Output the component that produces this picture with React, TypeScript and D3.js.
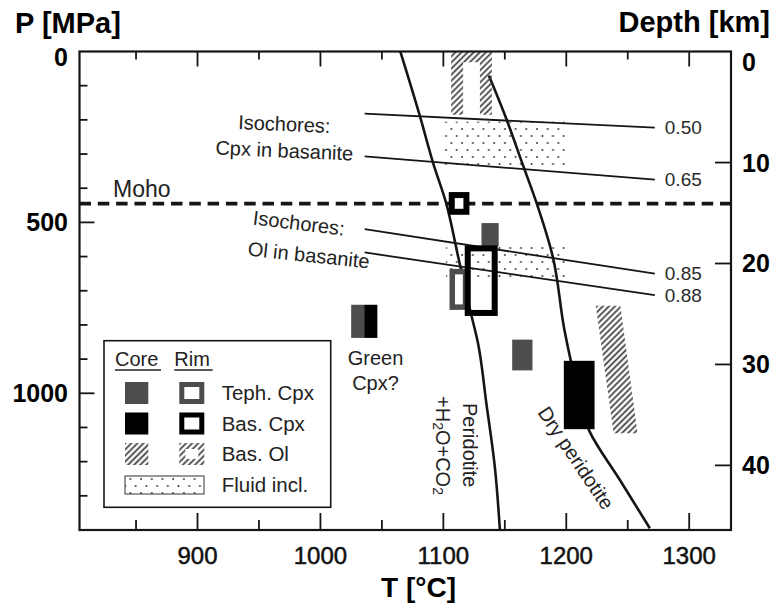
import React from 'react';
import * as d3 from 'd3';

// ---- axis ticks ----
const tempTicks = [900, 1000, 1100, 1200, 1300];
const tempMinorTicks = [850, 950, 1050, 1150, 1250];
const pressureTicks = [0, 500, 1000];
const pressureMinorTicks = [100, 200, 300, 400, 600, 700, 800, 900, 1100, 1200, 1300];
const depthTicks = [0, 10, 20, 30, 40];

const mohoPressure = 445;

// ---- solidus curves [T °C, P MPa] ----
const wetPeridotiteSolidus: [number, number][] = [
  [1065, 0], [1081, 190], [1092, 330], [1102, 440], [1112, 600],
  [1122, 760], [1128, 850], [1135, 1030], [1142, 1220], [1146, 1400],
];
const dryPeridotiteSolidus: [number, number][] = [
  [1137, 70], [1150.5, 190], [1164.5, 330], [1176, 445], [1189, 600],
  [1198.5, 815], [1203.5, 902], [1219, 1112], [1243.5, 1253], [1268, 1395],
];

// ---- isochores (density labels, T span, P at both ends) ----
const isochoreDensities = ['0.50', '0.65', '0.85', '0.88'];
const isochoreTSpan = [1036, 1272];
const isochorePStart = [182, 307, 520, 588];
const isochorePEnd = [223, 375, 650, 713];

// ---- mineral / inclusion P–T boxes ----
type Box = { t0: number; t1: number; p0: number; p1: number };
const tephCpxCores: Box[] = [
  { t0: 1131, t1: 1145, p0: 502, p1: 570 },
  { t0: 1156, t1: 1172.5, p0: 843, p1: 933 },
  { t0: 1025, t1: 1035.6, p0: 741, p1: 838 },
];
const basCpxCores: Box[] = [
  { t0: 1035.6, t1: 1046.3, p0: 741, p1: 838 },
  { t0: 1198, t1: 1223, p0: 905, p1: 1105 },
];
const tephCpxRims: Box[] = [{ t0: 1105, t1: 1120.3, p0: 636, p1: 756 }];
const basCpxRims: Box[] = [
  { t0: 1104.6, t1: 1121, p0: 412, p1: 477 },
  { t0: 1117.6, t1: 1144, p0: 568, p1: 773 },
];
const basOlCore: [number, number][] = [[1224, 744], [1244, 744], [1258, 1117], [1238.5, 1117]];
const basOlRim: Box = { t0: 1111.2, t1: 1134.6, p0: 14, p1: 185 };
const fluidInclusions: Box[] = [
  { t0: 1099, t1: 1199, p0: 205, p1: 337 },
  { t0: 1102, t1: 1199, p0: 572, p1: 660 },
];

const legendRows = ['Teph. Cpx', 'Bas. Cpx', 'Bas. Ol', 'Fluid incl.'];

// ---- scales ----
const x = d3.scaleLinear().domain([804, 1334]).range([79.5, 731]);
const y = d3.scaleLinear().domain([0, 1400]).range([51.5, 530]);
const yDepth = d3.scaleLinear().domain([-1, 46.4]).range([51.5, 530]);

const FONT = 'Liberation Sans, Arial, Helvetica, sans-serif';
const INK = '#151515';
const GREY = '#4d4d4d';

const rimW = 5.5;

function boxRect(b: Box) {
  return { x: x(b.t0), y: y(b.p0), w: x(b.t1) - x(b.t0), h: y(b.p1) - y(b.p0) };
}

export default function App() {
  const [xL, xR] = x.range();
  const [yT, yB] = y.range();
  const curve = d3.line<[number, number]>()
    .x(d => x(d[0]))
    .y(d => y(d[1]))
    .curve(d3.curveMonotoneY);
  const poly = d3.line<[number, number]>().x(d => x(d[0])).y(d => y(d[1]));

  const olRimPath =
    `M${x(basOlRim.t0)},${y(basOlRim.p1)} L${x(basOlRim.t0)},${y(basOlRim.p0)} ` +
    `L${x(basOlRim.t1)},${y(basOlRim.p0)} L${x(basOlRim.t1)},${y(basOlRim.p1)}`;

  // legend geometry
  const lg = { x: 104, y: 340.7, w: 226.7, h: 166.6 };
  const coreCx = 136.7;
  const rimCx = 191.8;
  const rowY = [393, 423.5, 454, 485];
  const sym = 22;

  return (
    <svg width={777} height={608} style={{ position: 'absolute', left: 0, top: 0, background: '#fff' }}
      fontFamily={FONT}>
      <defs>
        <pattern id="hatch" patternUnits="userSpaceOnUse" width="4.3" height="4.3" patternTransform="rotate(45)">
          <line x1="2.15" y1="0" x2="2.15" y2="4.3" stroke="#3a3a3a" strokeWidth="1.7" />
        </pattern>
        <pattern id="dots" patternUnits="userSpaceOnUse" width="10.7" height="14">
          <circle cx="2" cy="3" r="0.95" fill="#333" />
          <circle cx="7.35" cy="10" r="0.95" fill="#333" />
        </pattern>
        <clipPath id="plot">
          <rect x={xL} y={yT} width={xR - xL} height={yB - yT} />
        </clipPath>
      </defs>

      {/* fluid inclusions */}
      {fluidInclusions.map((b, i) => {
        const r = boxRect(b);
        return <rect key={'f' + i} x={r.x} y={r.y} width={r.w} height={r.h} fill="url(#dots)" />;
      })}

      {/* isochores */}
      {isochoreDensities.map((lab, i) => (
        <g key={'iso' + i}>
          <line x1={x(isochoreTSpan[0])} y1={y(isochorePStart[i])}
            x2={x(isochoreTSpan[1])} y2={y(isochorePEnd[i])}
            stroke={INK} strokeWidth={1.8} />
          <text x={x(isochoreTSpan[1]) + 10} y={y(isochorePEnd[i])} dy="0.35em"
            fontSize={19} fill="#2b2b2b">{lab}</text>
        </g>
      ))}

      {/* solidus curves */}
      <path d={curve(wetPeridotiteSolidus) || ''} fill="none" stroke={INK} strokeWidth={2.6} clipPath="url(#plot)" />
      <path d={curve(dryPeridotiteSolidus) || ''} fill="none" stroke={INK} strokeWidth={2.6} clipPath="url(#plot)" />

      {/* Moho */}
      <line x1={xL} x2={xR} y1={y(mohoPressure)} y2={y(mohoPressure)}
        stroke={INK} strokeWidth={3.6} strokeDasharray="11.5 6.8" />
      <text x={113} y={197} fontSize={23} fill="#222">Moho</text>

      {/* olivine */}
      <path d={(poly(basOlCore) || '') + 'Z'} fill="url(#hatch)" />
      <path d={olRimPath} fill="none" stroke="url(#hatch)" strokeWidth={12} clipPath="url(#plot)" />

      {/* clinopyroxene cores */}
      {tephCpxCores.map((b, i) => {
        const r = boxRect(b);
        return <rect key={'tc' + i} x={r.x} y={r.y} width={r.w} height={r.h} fill={GREY} />;
      })}
      {basCpxCores.map((b, i) => {
        const r = boxRect(b);
        return <rect key={'bc' + i} x={r.x} y={r.y} width={r.w} height={r.h} fill="#000" />;
      })}

      {/* clinopyroxene rims */}
      {tephCpxRims.map((b, i) => {
        const r = boxRect(b);
        return <rect key={'tr' + i} x={r.x + rimW / 2} y={r.y + rimW / 2} width={r.w - rimW} height={r.h - rimW}
          fill="#fff" stroke={GREY} strokeWidth={rimW} />;
      })}
      {basCpxRims.map((b, i) => {
        const r = boxRect(b);
        return <rect key={'br' + i} x={r.x + rimW / 2} y={r.y + rimW / 2} width={r.w - rimW} height={r.h - rimW}
          fill={i === 0 ? '#fff' : 'none'} stroke="#000" strokeWidth={rimW + 0.5} />;
      })}

      {/* annotations */}
      <g fontSize={20} fill="#222">
        <text x={284} y={131} textAnchor="middle" transform="rotate(2.5 284 131)">Isochores:</text>
        <text x={284} y={157.5} textAnchor="middle" transform="rotate(2.5 284 157.5)">Cpx in basanite</text>
        <text x={298} y={230} textAnchor="middle" transform="rotate(7 298 230)">Isochores:</text>
        <text x={308} y={262} textAnchor="middle" transform="rotate(6 308 262)">Ol in basanite</text>
        <text x={375.5} y={365} textAnchor="middle">Green</text>
        <text x={375.5} y={390} textAnchor="middle">Cpx?</text>
        <text transform="translate(470,403) rotate(90)" dominantBaseline="central">Peridotite</text>
        <text transform="translate(442.5,396) rotate(90)" dominantBaseline="central">
          <tspan>+H</tspan><tspan dy="5" fontSize={14}>2</tspan><tspan dy="-5">O+CO</tspan><tspan dy="5" fontSize={14}>2</tspan>
        </text>
        <text transform="translate(576,458) rotate(56)" textAnchor="middle" dominantBaseline="central">Dry peridotite</text>
      </g>

      {/* legend */}
      <g>
        <rect x={lg.x} y={lg.y} width={lg.w} height={lg.h} fill="#fff" stroke={INK} strokeWidth={1.6} />
        <text x={115} y={366} fontSize={20} fill="#222">Core</text>
        <line x1={115} x2={161} y1={370} y2={370} stroke="#222" strokeWidth={1.5} />
        <text x={174.3} y={366} fontSize={20} fill="#222">Rim</text>
        <line x1={174.3} x2={212.7} y1={370} y2={370} stroke="#222" strokeWidth={1.5} />
        <rect x={coreCx - 11.7} y={rowY[0] - sym / 2} width={23.3} height={sym} fill={GREY} />
        <rect x={rimCx - 12.5 + 2.5} y={rowY[0] - sym / 2 + 2.5} width={25 - 5} height={sym - 5}
          fill="#fff" stroke={GREY} strokeWidth={5} />
        <rect x={coreCx - 11.7} y={rowY[1] - sym / 2} width={23.3} height={sym} fill="#000" />
        <rect x={rimCx - 12.5 + 2.5} y={rowY[1] - sym / 2 + 2.5} width={25 - 5} height={sym - 5}
          fill="#fff" stroke="#000" strokeWidth={5} />
        <rect x={coreCx - 11.7} y={rowY[2] - sym / 2} width={23.3} height={sym} fill="url(#hatch)" />
        <rect x={rimCx - 12.5 + 3} y={rowY[2] - sym / 2 + 3} width={25 - 6} height={sym - 6}
          fill="none" stroke="url(#hatch)" strokeWidth={6} />
        <rect x={125} y={rowY[3] - 9} width={79} height={18} fill="url(#dots)" stroke="#333" strokeWidth={1} />
        {legendRows.map((lab, i) => (
          <text key={lab} x={221.7} y={rowY[i]} dy="0.36em" fontSize={20.5} fill="#222">{lab}</text>
        ))}
      </g>

      {/* frame */}
      <rect x={xL} y={yT} width={xR - xL} height={yB - yT} fill="none" stroke={INK} strokeWidth={2.2} />

      {/* temperature ticks (bottom and top, inward) */}
      {tempTicks.map(t => (
        <g key={'tt' + t}>
          <line x1={x(t)} x2={x(t)} y1={yB} y2={yB - 17} stroke={INK} strokeWidth={1.8} />
          <line x1={x(t)} x2={x(t)} y1={yT} y2={yT + 15} stroke={INK} strokeWidth={1.8} />
          <text x={x(t)} y={564} textAnchor="middle" fontSize={24} fill="#111"
            stroke="#111" strokeWidth={0.5}>{t}</text>
        </g>
      ))}
      {tempMinorTicks.map(t => (
        <g key={'tm' + t}>
          <line x1={x(t)} x2={x(t)} y1={yB} y2={yB - 10} stroke={INK} strokeWidth={1.8} />
          <line x1={x(t)} x2={x(t)} y1={yT} y2={yT + 8} stroke={INK} strokeWidth={1.8} />
        </g>
      ))}

      {/* pressure ticks (left) */}
      {pressureTicks.map(p => (
        <g key={'pt' + p}>
          {p > 0 && <line x1={xL} x2={xL + 15} y1={y(p)} y2={y(p)} stroke={INK} strokeWidth={1.8} />}
          <text x={68} y={Math.max(y(p), yT + 5.5)} dy="0.36em" textAnchor="end" fontSize={25}
            fontWeight="bold" fill="#000">{p}</text>
        </g>
      ))}
      {pressureMinorTicks.map(p => (
        <line key={'pm' + p} x1={xL} x2={xL + 8} y1={y(p)} y2={y(p)} stroke={INK} strokeWidth={1.8} />
      ))}

      {/* depth ticks (right) */}
      {depthTicks.map(z => (
        <g key={'dz' + z}>
          {z > 0 && <line x1={xR} x2={xR - 16} y1={yDepth(z)} y2={yDepth(z)} stroke={INK} strokeWidth={1.8} />}
          <text x={742} y={yDepth(z)} dy="0.36em" fontSize={25} fontWeight="bold" fill="#000">{z}</text>
        </g>
      ))}

      {/* axis titles */}
      <text x={15} y={33} fontSize={29} fontWeight="bold" fill="#000">P [MPa]</text>
      <text x={770} y={32} textAnchor="end" fontSize={29} fontWeight="bold" fill="#000">Depth [km]</text>
      <text x={418.5} y={597} textAnchor="middle" fontSize={28} fontWeight="bold" fill="#000">T [°C]</text>
    </svg>
  );
}
